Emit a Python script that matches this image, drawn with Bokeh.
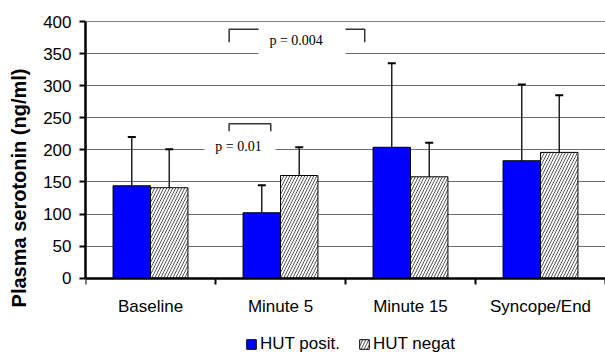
from bokeh.plotting import figure
from bokeh.models import (ColumnDataSource, FixedTicker, Legend, LegendItem, Span)
from bokeh.core.properties import value
from bokeh.embed import file_html
from bokeh.resources import INLINE

# ---- data ----
categories = ["Baseline", "Minute 5", "Minute 15", "Syncope/End"]
pos_mean = [144, 102, 204, 183]
pos_sd = [76, 43, 131, 119]
neg_mean = [141, 160, 158, 196]
neg_sd = [60, 44, 53, 89]
y_ticks = [0, 50, 100, 150, 200, 250, 300, 350, 400]

# significance annotations (data units)
sig_labels = ["p = 0.01", "p = 0.004"]
sig_text_x = [1.177, 1.62]
sig_text_y = [205, 370]
sig_br_x0 = [1.105, 1.105]
sig_br_x1 = [1.425, 2.148]
sig_br_top = [240.5, 388]
sig_br_bottom = [229, 367.6]
sig_box_left = [0.915, 1.331]
sig_box_right = [1.462, 2.0]
sig_box_bottom = [190, 345]
sig_box_top = [222, 394]

BAR_W = 0.288
centers = [i + 0.5 for i in range(len(categories))]
x_pos = [c - BAR_W / 2 for c in centers]
x_neg = [c + BAR_W / 2 for c in centers]

# frame extends below y=0 so the legend can sit under the category labels
p = figure(width=605, height=354, x_range=(0, 4), y_range=(-118.9, 400),
           output_backend="svg", toolbar_location=None,
           min_border_left=85, min_border_right=0, min_border_top=21,
           min_border_bottom=0)
p.outline_line_color = None
p.background_fill_color = "white"

# axes
p.xaxis.fixed_location = 0
p.xaxis.ticker = FixedTicker(ticks=centers, minor_ticks=[0, 1, 2, 3, 4])
p.xaxis.major_label_overrides = {c: n for c, n in zip(centers, categories)}
p.xaxis.major_tick_out = 0
p.xaxis.major_tick_in = 0
p.xaxis.minor_tick_out = 6
p.xaxis.minor_tick_in = 0
p.xaxis.minor_tick_line_width = 2
p.xaxis.minor_tick_line_color = "black"
p.xaxis.axis_line_width = 2.5
p.xaxis.axis_line_color = "black"
p.xaxis.major_label_standoff = 13
p.xaxis.major_label_text_font = "Liberation Sans"
p.xaxis.major_label_text_font_size = "17px"
p.xaxis.major_label_text_color = "black"

p.yaxis.bounds = (0, 400)
p.yaxis.ticker = FixedTicker(ticks=y_ticks)
p.yaxis.major_tick_out = 6
p.yaxis.major_tick_in = 0
p.yaxis.major_tick_line_width = 2
p.yaxis.minor_tick_line_color = None
p.yaxis.axis_line_width = 2.5
p.yaxis.axis_line_color = "black"
p.yaxis.major_label_standoff = 8
p.yaxis.major_label_text_font = "Liberation Sans"
p.yaxis.major_label_text_font_size = "17px"
p.yaxis.major_label_text_color = "black"
p.yaxis.axis_label = "Plasma serotonin (ng/ml)"
p.yaxis.axis_label_text_font = "Liberation Sans"
p.yaxis.axis_label_text_font_size = "20px"
p.yaxis.axis_label_text_font_style = "bold"
p.yaxis.axis_label_text_color = "black"
p.yaxis.axis_label_standoff = 10

p.xgrid.grid_line_color = None
p.ygrid.grid_line_color = "#6e6e6e"
p.ygrid.grid_line_width = 1
p.add_layout(Span(location=400, dimension="width", line_color="black", line_width=1.2))

# bars
src_pos = ColumnDataSource(dict(x=x_pos, top=pos_mean,
                                err=[m + s for m, s in zip(pos_mean, pos_sd)]))
src_neg = ColumnDataSource(dict(x=x_neg, top=neg_mean,
                                err=[m + s for m, s in zip(neg_mean, neg_sd)]))

r_pos = p.vbar(x="x", top="top", bottom=0, width=BAR_W, source=src_pos,
               fill_color="#0000ff", line_color="black", line_width=1)
r_neg = p.vbar(x="x", top="top", bottom=0, width=BAR_W, source=src_neg,
               fill_color="white", line_color="black", line_width=1,
               hatch_pattern="right_diagonal_line", hatch_color="#555555",
               hatch_scale=6, hatch_weight=1)

for src in (src_pos, src_neg):
    p.segment(x0="x", y0="top", x1="x", y1="err", source=src,
              line_color="black", line_width=1.3)
    p.scatter(x="x", y="err", source=src, marker="dash", size=8,
              line_color="black", line_width=2)

# significance brackets
br_xs = [[a, a, b, b] for a, b in zip(sig_br_x0, sig_br_x1)]
br_ys = [[lo, hi, hi, lo] for lo, hi in zip(sig_br_bottom, sig_br_top)]
p.multi_line(xs=br_xs, ys=br_ys, line_color="#333333", line_width=1.5)
p.quad(left=sig_box_left, right=sig_box_right, bottom=sig_box_bottom,
       top=sig_box_top, fill_color="white", line_color=None)
p.text(x=sig_text_x, y=sig_text_y, text=sig_labels,
       text_font=value("Liberation Serif"), text_font_size="14px",
       text_align="center", text_baseline="middle", text_color="black")

legend = Legend(items=[LegendItem(label="HUT posit.", renderers=[r_pos]),
                       LegendItem(label="HUT negat", renderers=[r_neg])],
                orientation="horizontal", location=(160, 0),
                glyph_width=12, glyph_height=12, label_standoff=3,
                spacing=18, padding=0, margin=0,
                label_text_font="Liberation Sans", label_text_font_size="17px",
                label_text_color="black", border_line_color=None,
                background_fill_alpha=0)
p.add_layout(legend)

open("out.html", "w").write(file_html(p, INLINE))
